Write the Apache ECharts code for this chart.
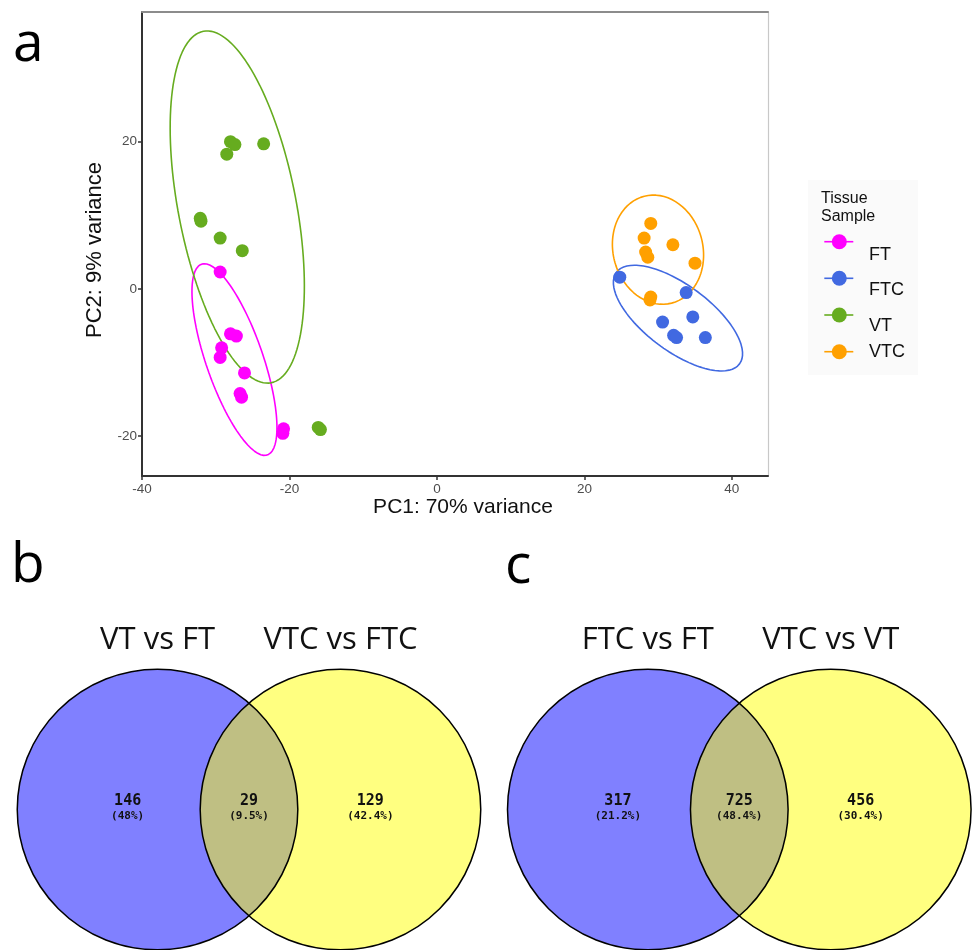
<!DOCTYPE html>
<html><head><meta charset="utf-8">
<script src="https://cdn.jsdelivr.net/npm/echarts@6/dist/echarts.min.js"></script>
<style>html,body{margin:0;padding:0;background:#fff}#c{width:973px;height:950px}</style>
</head><body><div id="c"></div>
<script>
// ---------- data ----------
const groups = ['FT', 'FTC', 'VT', 'VTC'];
const ptsFT = [[-29.4,2.3],[-28.0,-6.1],[-27.2,-6.4],[-29.2,-8.0],[-29.4,-9.3],[-26.1,-11.4],[-26.7,-14.2],[-26.5,-14.7],[-20.8,-19.0],[-20.9,-19.6]];
const ptsFTC = [[24.8,1.6],[33.8,-0.5],[30.6,-4.5],[32.1,-6.3],[32.5,-6.6],[34.7,-3.8],[36.4,-6.6]];
const ptsVT = [[-28.0,20.0],[-27.4,19.6],[-28.5,18.3],[-23.5,19.7],[-32.1,9.6],[-32.0,9.2],[-29.4,6.9],[-26.4,5.2],[-16.1,-18.8],[-15.8,-19.1]];
const ptsVTC = [[29.0,8.9],[28.1,6.9],[28.3,5.0],[28.6,4.3],[32.0,6.0],[35.0,3.5],[29.0,-1.1],[28.9,-1.5]];
const xTicks = [-40, -20, 0, 20, 40];
const yTicks = [-20, 0, 20];
const xTitle = 'PC1: 70% variance';
const yTitle = 'PC2: 9% variance';
const legendTitle = ['Tissue', 'Sample'];
// confidence ellipses: [centre x, centre y, semi-major, semi-minor, tilt from vertical (deg)]
const ellFT = [-27.46, -9.59, 13.7, 3.86, 19.0];
const ellFTC = [32.69, -3.96, 10.41, 4.46, 53.3];
const ellVT = [-27.08, 11.12, 24.3, 8.0, 10.9];
const ellVTC = [29.98, 5.33, 7.49, 6.09, 14.3];

const vennBSets = ['VT vs FT', 'VTC vs FTC'];
const vennBCounts = [146, 29, 129];
const vennBPercents = ['48%', '9.5%', '42.4%'];
const vennCSets = ['FTC vs FT', 'VTC vs VT'];
const vennCCounts = [317, 725, 456];
const vennCPercents = ['21.2%', '48.4%', '30.4%'];

// ---------- styles / layout ----------
const colors = ['#ff00ff', '#4169e1', '#66ac1f', '#ffa000'];
const ptsAll = [ptsFT, ptsFTC, ptsVT, ptsVTC];
const ellAll = [ellFT, ellFTC, ellVT, ellVTC];
const vennLayout = { halfSep: 0.652, titleY: 1.205, countY: 0.058, pctY: -0.05, labelX: [-0.865, 0, 0.865] };
const FONT = '"Liberation Sans", Arial, sans-serif';

function ellipsePath(p) {
  const [cx, cy, a, b, deg] = p;
  const f = deg * Math.PI / 180;
  const ux = -Math.sin(f), uy = Math.cos(f), vx = Math.cos(f), vy = Math.sin(f);
  const out = [];
  for (let i = 0; i <= 144; i++) {
    const t = 2 * Math.PI * i / 144;
    out.push([cx + a * Math.cos(t) * ux + b * Math.sin(t) * vx, cy + a * Math.cos(t) * uy + b * Math.sin(t) * vy]);
  }
  return out;
}

function vennSeries(idx, titles, counts, pcts) {
  return {
    type: 'custom', xAxisIndex: idx, yAxisIndex: idx, data: [[0, 0]], silent: true, clip: false,
    renderItem: function (params, api) {
      const h = vennLayout.halfSep;
      const c1 = api.coord([-h, 0]), c2 = api.coord([h, 0]);
      const r = api.size([1, 1])[0];
      const d = c2[0] - c1[0];
      const al = Math.acos(d / 2 / r);
      const lens = [];
      const N = 60;
      for (let i = 0; i <= N; i++) { const t = -al + 2 * al * i / N; lens.push([c1[0] + r * Math.cos(t), c1[1] + r * Math.sin(t)]); }
      for (let i = 0; i <= N; i++) { const t = Math.PI - al + 2 * al * i / N; lens.push([c2[0] + r * Math.cos(t), c2[1] + r * Math.sin(t)]); }
      const ch = [
        { type: 'circle', shape: { cx: c1[0], cy: c1[1], r: r }, style: { fill: '#8080ff' } },
        { type: 'circle', shape: { cx: c2[0], cy: c2[1], r: r }, style: { fill: '#ffff80' } },
        { type: 'polygon', shape: { points: lens }, style: { fill: '#bfbf83' } },
        { type: 'circle', shape: { cx: c1[0], cy: c1[1], r: r }, style: { fill: null, stroke: '#000', lineWidth: 1.5 } },
        { type: 'circle', shape: { cx: c2[0], cy: c2[1], r: r }, style: { fill: null, stroke: '#000', lineWidth: 1.5 } }
      ];
      [c1, c2].forEach(function (c, i) {
        const p = api.coord([i === 0 ? -h : h, vennLayout.titleY]);
        ch.push({ type: 'text', style: { text: titles[i], x: p[0], y: p[1], fill: '#111', font: '31px "Open Sans", sans-serif', align: 'center', verticalAlign: 'middle' } });
      });
      for (let i = 0; i < 3; i++) {
        const p1 = api.coord([vennLayout.labelX[i], vennLayout.countY]);
        const p2 = api.coord([vennLayout.labelX[i], vennLayout.pctY]);
        ch.push({ type: 'text', style: { text: String(counts[i]), x: p1[0], y: p1[1], fill: '#111', font: 'bold 15px "DejaVu Sans Mono", monospace', align: 'center', verticalAlign: 'middle' } });
        ch.push({ type: 'text', style: { text: '(' + pcts[i] + ')', x: p2[0], y: p2[1], fill: '#111', font: 'bold 11px "DejaVu Sans Mono", monospace', align: 'center', verticalAlign: 'middle' } });
      }
      return { type: 'group', children: ch };
    }
  };
}

// ---------- legend (graphic, built from groups) ----------
const legendSymY = [241.7, 278.3, 315, 351.7];
const legendTxtY = [255, 290, 326.5, 351.7];
const graphics = [
  { type: 'rect', shape: { x: 808, y: 180, width: 110, height: 195 }, style: { fill: '#fafafa' }, z: -1 },
  { type: 'text', style: { text: legendTitle[0], x: 821, y: 199, fill: '#111', font: '16px ' + FONT, verticalAlign: 'middle' } },
  { type: 'text', style: { text: legendTitle[1], x: 821, y: 217, fill: '#111', font: '16px ' + FONT, verticalAlign: 'middle' } },
  { type: 'text', style: { text: 'a', x: 13, y: 45, fill: '#000', font: '55px "Open Sans", sans-serif', verticalAlign: 'middle' } },
  { type: 'text', style: { text: 'b', x: 11, y: 566, fill: '#000', font: '55px "Open Sans", sans-serif', verticalAlign: 'middle' } },
  { type: 'text', style: { text: 'c', x: 505, y: 567, fill: '#000', font: '55px "Open Sans", sans-serif', verticalAlign: 'middle' } }
];
groups.forEach(function (g, i) {
  graphics.push({ type: 'line', shape: { x1: 824.3, y1: legendSymY[i], x2: 853.3, y2: legendSymY[i] }, style: { stroke: colors[i], lineWidth: 1.6 } });
  graphics.push({ type: 'circle', shape: { cx: 839.3, cy: legendSymY[i], r: 7.5 }, style: { fill: colors[i] } });
  graphics.push({ type: 'text', style: { text: g, x: 869, y: legendTxtY[i], fill: '#111', font: '18px ' + FONT, verticalAlign: 'middle' } });
});

// ---------- series ----------
const series = [];
groups.forEach(function (g, i) {
  series.push({ name: g + ' ellipse', type: 'line', xAxisIndex: 0, yAxisIndex: 0, data: ellipsePath(ellAll[i]), showSymbol: false, silent: true,
    lineStyle: { color: colors[i], width: 1.6 }, itemStyle: { color: colors[i] }, z: 2, animation: false });
});
groups.forEach(function (g, i) {
  series.push({ name: g, type: 'scatter', xAxisIndex: 0, yAxisIndex: 0, data: ptsAll[i], symbolSize: 13,
    itemStyle: { color: colors[i], opacity: 1 }, z: 3 });
});
// axes 0,1 belong to the PCA grid; 2 and 3 to the two Venn grids
series.push(vennSeries(2, vennBSets, vennBCounts, vennBPercents));
series.push(vennSeries(3, vennCSets, vennCCounts, vennCPercents));

const hidden = { show: false };
const option = {
  animation: false,
  backgroundColor: '#fff',
  grid: [
    { left: 142, top: 12, width: 626, height: 464 },
    { left: 3.5, top: 669.2, width: 491, height: 280.6 },
    { left: 493.75, top: 669.2, width: 460, height: 280.6 }
  ],
  xAxis: [
    { type: 'value', gridIndex: 0, position: 'bottom', min: -40, max: 44.9,
      axisLine: { onZero: false, lineStyle: { color: '#333', width: 2 } },
      axisTick: { customValues: xTicks, length: 4, lineStyle: { color: '#333', width: 1.5 } },
      axisLabel: { customValues: xTicks, color: '#4d4d4d', fontSize: 13.5, fontFamily: FONT, margin: 6 },
      splitLine: hidden,
      name: xTitle, nameLocation: 'middle', nameGap: 20,
      nameTextStyle: { fontSize: 21, color: '#111', fontFamily: FONT, padding: [0, 0, 0, 16] } },
    { type: 'value', gridIndex: 0, position: 'top', min: -40, max: 44.9,
      axisLine: { onZero: false, lineStyle: { color: '#8c8c8c', width: 2 } },
      axisTick: hidden, axisLabel: hidden, splitLine: hidden },
    { type: 'value', gridIndex: 1, min: -1.75, max: 1.75, show: false },
    { type: 'value', gridIndex: 2, min: -1.75, max: 1.5286, show: false }
  ],
  yAxis: [
    { type: 'value', gridIndex: 0, position: 'left', min: -25.4, max: 37.6,
      axisLine: { onZero: false, lineStyle: { color: '#333', width: 2 } },
      axisTick: { customValues: yTicks, length: 4, lineStyle: { color: '#333', width: 1.5 } },
      axisLabel: { customValues: yTicks, color: '#4d4d4d', fontSize: 13.5, fontFamily: FONT, margin: 5 },
      splitLine: hidden,
      name: yTitle, nameLocation: 'middle', nameGap: 36, nameRotate: 90,
      nameTextStyle: { fontSize: 22, color: '#111', fontFamily: FONT, padding: [0, 12, 0, 0] } },
    { type: 'value', gridIndex: 0, position: 'right', min: -25.4, max: 37.6,
      axisLine: { onZero: false, lineStyle: { color: '#c8c8c8', width: 1.2 } },
      axisTick: hidden, axisLabel: hidden, splitLine: hidden },
    { type: 'value', gridIndex: 1, min: -1, max: 1, show: false },
    { type: 'value', gridIndex: 2, min: -1, max: 1, show: false }
  ],
  graphic: graphics,
  series: series
};
const chart = echarts.init(document.getElementById('c'), null, { renderer: 'canvas' });
chart.setOption(option);
</script></body></html>
